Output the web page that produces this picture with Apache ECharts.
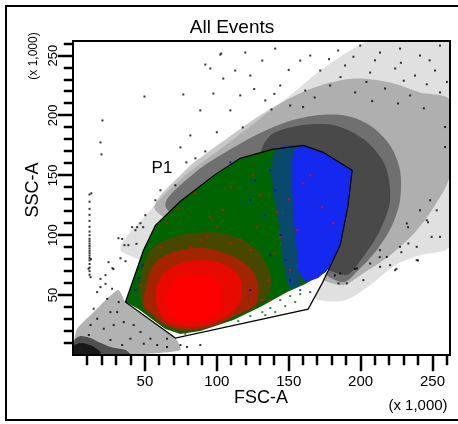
<!DOCTYPE html>
<html><head><meta charset="utf-8">
<script src="https://cdn.jsdelivr.net/npm/echarts@6/dist/echarts.min.js"></script>
<style>html,body{margin:0;padding:0;background:#fff}#c{width:458px;height:424px}</style>
</head><body><div id="c"></div>
<script>
const FONT = '"Liberation Sans", Arial, sans-serif';
const axisMax = 262.144;
const majorTicks = [50, 100, 150, 200, 250];
const minorTicks = [10,20,30,40,60,70,80,90,110,120,130,140,160,170,180,190,210,220,230,240,260];

// gate P1 (FSC-A, SSC-A in thousands)
const gateP1 = [[36.5,44.2],[49,87.5],[57.3,108.3],[74.7,128.3],[99,150.8],[116.3,164.2],[138.5,171.7],[160.1,175],[174,169.2],[194.1,154.2],[191.3,125],[185.8,91.7],[173.3,60],[163.5,38.3],[71.2,14.2]];

// density contours of the ungated (black) events
const blackSparseArea = [[34.4,85.8],[53.8,120.8],[78.1,150],[105.9,175],[130.2,197.5],[151,216.7],[171.9,237.5],[192.7,254.2],[206.6,262],[262,262],[262,91.7],[241.3,83.3],[224,75],[206.6,58.3],[189.2,45.8],[171.9,45.8]];
const blackMidArea = [[57.3,120.8],[78.1,154.2],[102.4,176.7],[126.7,197.5],[147.6,212.5],[171.9,225],[196.2,230.8],[220.5,227.5],[241.3,219.2],[262,212.5],[262,150],[251.7,125],[237.8,102.5],[220.5,83.3],[203.1,69.2],[185.8,58.3],[120,90]];
const blackCoreArea = [[64.2,125],[85.1,152.5],[105.9,169.2],[126.7,183.3],[147.6,194.2],[168.4,200],[189.2,200],[206.6,191.7],[220.5,175],[227.4,154.2],[227.4,129.2],[221.9,108.3],[212.2,89.2],[199.7,72.5],[187.2,60.8],[158,79.2],[88.5,104.2]];
const blackDenseArea = [[137.2,183.3],[158,191.7],[182.3,191.7],[203.1,179.2],[217,158.3],[220.5,129.2],[213.5,104.2],[201,80.8],[189.2,66.7],[158,87.5],[130.2,162.5]];
const blackSprayArea = [[1.7,0],[2.4,20.8],[12.2,33.3],[22.6,45.8],[31.6,54.2],[36.5,44.2],[53.8,29.2],[71.2,14.2],[74.7,4.2],[46.9,0.8]];
const blackCornerArea = [[1,0],[1,12.5],[5.2,15.8],[12.2,14.2],[17.7,10.8],[26,6.7],[36.5,4.2],[40,0]];
const blackCornerCore = [[1,0],[1,8.3],[6.6,10],[13.5,7.5],[19.1,2.5],[19.1,0]];

// gated populations
const greenArea = [[36.5,44.2],[49,87.5],[57.3,108.3],[74.7,128.3],[99,150.8],[116.3,164.2],[138.5,171.7],[160.1,175],[174,169.2],[194.1,154.2],[191.3,125],[185.8,91.7],[176,69.2],[161.5,59.2],[149,52.5],[130.2,40],[111.5,29.2],[88.5,20],[74.7,17.5],[64.2,21.7],[53.8,30.8],[45.5,38.3]];
const blueMixArea = [[140.6,170.8],[154.5,174.2],[153.1,129.2],[155.2,87.5],[158,60],[151,55.8],[146.2,79.2],[142.7,112.5],[138.5,145.8]];
const blueArea = [[154.5,173.3],[160.1,175],[174,169.2],[194.1,154.2],[191.3,125],[185.8,91.7],[178,72.5],[170.5,64.2],[161.5,60.8],[156.6,70.8],[155.2,91.7],[153.1,116.7],[152.4,141.7],[152.4,162.5]];
const redOuterArea = [[46.9,62.5],[53.8,87.5],[67.7,97.5],[88.5,102.5],[109.4,100],[126.7,89.2],[135.8,72.5],[137.2,54.2],[128.8,41.7],[116.3,34.2],[95.5,23.3],[74.7,19.2],[59.4,27.5],[49,39.2]];
const redMidArea = [[50.3,54.2],[53.8,70.8],[60.8,80.8],[74.7,87.5],[92,89.2],[109.4,83.3],[123.3,72.5],[128.8,58.3],[126.7,41.7],[116.3,35],[99,25],[81.6,20.8],[64.2,25],[55.2,34.2],[48.9,41.7]];
const redInnerArea = [[57.3,50],[60.8,64.2],[71.2,75],[88.5,79.2],[105.9,75],[116.3,62.5],[116.3,45.8],[108,33.3],[92,25],[74.7,24.2],[62.2,30.8]];
const redCoreArea = [[64.2,45.8],[67.7,58.3],[76,65],[88.5,66.7],[99,62.5],[103.8,52.5],[102.4,39.2],[95.5,30.8],[83,27.5],[71.2,30.8],[64.9,37.5]];

// individual events
const blackDots = [
[49.7,215.8],[76.7,217.5],[20.5,195.8],[19.1,177.5],[19.8,167.5],[12.8,135],[102.4,250.8],[92,242.5],[95.5,239.2],[74.7,173.3],[88.5,204.2],[97.6,218.3],[104.5,230.8],[103.1,251.7],[81.6,183.3],[71.2,141.7],[57.3,129.2],[50.3,116.7],[43.4,104.2],[38.5,91.7],[33,80.8],[27.4,72.5],[22.6,66.7],[31.6,97.5],[46.9,110],[60.8,137.5],[78.8,160.8],[85.1,164.2],
[11.5,134],[11.5,128],[11.5,122],[11.5,117],[11.5,112],[11.5,107],[11.5,103],[11.5,100],[11.5,97],[11.5,95],[11.5,93],[11.5,91],[11.5,89],[11.5,87],[11.5,85],[11.5,83],[11.5,81],[11.5,79],[11.5,76],[11.5,73],[11.5,70],[11.5,67],[12.2,65],[10.8,72],[12.5,80],
[16.8,52.5],[19.1,56.7],[24.7,77.5],[28.1,71.7],[36.5,78.3],[35.8,91.7],[41.1,106.7],[44.6,106.7],[48.8,106.7],[44.1,92.8],[34.2,96.9],[19.1,63.6],[22.6,59.4],[27.2,55.3],[23.8,46.9],[14.4,38.6],[16.8,30.3],[26,35.8],[31.8,44.2],[30.7,35.8],[35.3,27.5],[28.3,25],[21.4,21.9],[12.2,25],[11,16.7],[42.2,25],[46.9,19.2],[53.8,13.6],[58.5,8.3],[65.4,6.7],[74.7,8.3],[79.3,6.7],[88.5,8.3],[65.4,13.6],[39.9,13.6],[49.2,9.4],[34.2,8.3],[26,12.5],
[255.2,98.6],[249.4,98.6],[239,79.2],[224,70.8],[220.5,75],[218.2,81.9],[206.6,76.4],[213.5,87.5],[227.4,90.3],[233.2,93.1],[201.9,62.5],[190.4,59.8],[184.6,59.8],[185.8,68.1],[197.4,72.3],[213.5,73.6],[239,90.3],[246,112.5],[252.9,120.8],[258.7,173.6],[258.7,190.3],[248.3,129.2],[241.3,120.8],[232.1,109.8],[224.9,71.9],[233,106.7],[246.9,110.8],[239.9,78.9],[228.3,85.8],[213.3,81.7],[196,71.9],[182.1,66.4],
[184.4,254.2],[199.7,258.3],[213.5,252.5],[227.4,255.8],[241.3,250],[255.2,258.3],[158,245.8],[171.9,237.5],[189.2,241.7],[206.6,235.8],[224,239.2],[237.8,233.3],[251.7,237.5],[144.1,225],[161.5,220.8],[178.8,225],[196.2,219.2],[217,222.5],[234.4,216.7],[255.2,219.2],[131.6,245.8],[123.3,233.3],[116.3,216.7],[133.7,212.5],[151,208.3],[109.4,204.2],[119.8,252.5],[140.6,255.8],[112.8,237.5],
[165,250],[178,247],[195,249],[210,246],[228,244],[248,246],[150,238],[186,232],[204,228],[230,229],[246,226],[260,228],[126,222],[140,218],[168,215],[208,212],[226,210],[244,206],[118,190],[100,186],[92,170],[138,205],[160,207]
];
const redDots = [[73.3,122.5],[95.5,115],[104.5,120.8],[130.2,133.3],[142,119.2],[160.1,143.3],[128.1,106.7],[116.3,95.8],[93.4,98.3],[81.6,90],[144.1,98.3],[155.9,104.2],[100.3,106.7],[60.8,90],[173.3,123.3],[180.9,110],[46.9,58.3],[52.4,41.7],[131.6,45.8],[135.8,62.5],[123.3,87.5],[109.4,93.3],[64.2,77.5],[71.2,83.3],[88.5,95.8],[78.1,17.5],[137.2,45.8],[151,70.8],[85,135],[110,140],[125,150],[65,110],[140,85],[150,130],[165,150]];
const blueDots = [[137.2,154.2],[140.6,137.5],[133.7,116.7],[144.1,100],[147.6,79.2],[137.2,83.3],[126.7,145.8],[123.3,129.2],[151,62.5],[158,54.2],[164.9,52.5],[43.4,54.2],[45.8,64.2],[48.3,75],[123.3,54.2],[109.4,160.8]];
const greenDots = [[114.9,28.3],[123.3,32.5],[131.6,35.8],[137.2,39.2],[144.1,45.8],[151,49.2],[158,50.8],[140.6,35.8],[147.6,40.8],[154.5,44.2],[133.7,33.3]];

const GRID = { left: 73, top: 41, width: 377, height: 314 };

function area(pts, fill, smooth, stroke) {
  return {
    type: 'custom', coordinateSystem: 'cartesian2d', clip: true, silent: true,
    xAxisIndex: 0, yAxisIndex: 0, data: pts, encode: { x: 0, y: 1 },
    renderItem: function (params, api) {
      if (params.dataIndex !== 0) return null;
      return {
        type: 'polygon',
        shape: { points: pts.map(function (p) { return api.coord(p); }), smooth: smooth || 0 },
        style: stroke ? { fill: 'none', stroke: stroke, lineWidth: 1.2 } : { fill: fill }
      };
    }
  };
}
function dots(pts, color) {
  return { type: 'scatter', data: pts, symbol: 'rect', symbolSize: 2, silent: true,
    itemStyle: { color: color }, xAxisIndex: 0, yAxisIndex: 0 };
}

const chart = echarts.init(document.getElementById('c'), null, { renderer: 'canvas' });
chart.setOption({
  animation: false,
  backgroundColor: '#fff',
  grid: { left: GRID.left, top: GRID.top, width: GRID.width, height: GRID.height, show: true, borderColor: '#000', borderWidth: 2, backgroundColor: 'transparent' },
  xAxis: { type: 'value', min: 0, max: axisMax, position: 'bottom',
    axisLine: { show: true, lineStyle: { color: '#000', width: 2 } },
    axisTick: { show: false },
    axisLabel: { customValues: majorTicks, margin: 19, color: '#000', fontSize: 15, fontFamily: FONT },
    splitLine: { show: false } },
  yAxis: { type: 'value', min: 0, max: axisMax, position: 'left',
    axisLine: { show: true, lineStyle: { color: '#000', width: 2 } },
    axisTick: { show: false },
    axisLabel: { customValues: majorTicks, margin: 13, rotate: 90, color: '#000', fontSize: 13, fontFamily: FONT },
    splitLine: { show: false } },
  series: [
    area(blackSparseArea, 'rgba(0,0,0,0.12)', 0.3),
    area(blackMidArea, 'rgba(0,0,0,0.22)', 0.3),
    area(blackCoreArea, 'rgba(0,0,0,0.36)', 0.3),
    area(blackDenseArea, 'rgba(0,0,0,0.35)', 0.3),
    area(blackSprayArea, 'rgba(0,0,0,0.3)', 0.2),
    area(blackCornerArea, 'rgba(0,0,0,0.55)', 0.2),
    area(blackCornerCore, 'rgba(0,0,0,0.7)', 0.2),
    dots(blackDots, '#000'),
    area(gateP1, '#fff'),
    area(greenArea, '#006400'),
    area(blueMixArea, 'rgba(20,40,240,0.45)', 0.3),
    area(blueArea, '#1428f0'),
    area(redOuterArea, 'rgba(255,0,0,0.28)', 0.35),
    area(redMidArea, 'rgba(255,0,0,0.5)', 0.35),
    area(redInnerArea, 'rgba(255,0,0,0.75)', 0.35),
    area(redCoreArea, '#ff0000', 0.35),
    dots(greenDots, '#006400'),
    dots(blueDots, '#0000ff'),
    dots(redDots, '#ff0000'),
    area(gateP1, null, 0, '#000')
  ]
});

// frame, texts and axis tick marks (tick positions from the chart's axis scales)
const graphics = [
  { type: 'rect', silent: true, z: 100, shape: { x: 6, y: 6, width: 470, height: 414 }, style: { fill: 'none', stroke: '#000', lineWidth: 2 } },
  { type: 'text', silent: true, z: 100, x: 232, y: 28, style: { text: 'All Events', fontSize: 19, fontFamily: FONT, fill: '#000', align: 'center', verticalAlign: 'middle' } },
  { type: 'text', silent: true, z: 100, x: 261, y: 398, style: { text: 'FSC-A', fontSize: 18, fontFamily: FONT, fill: '#000', align: 'center', verticalAlign: 'middle' } },
  { type: 'text', silent: true, z: 100, x: 418, y: 406, style: { text: '(x 1,000)', fontSize: 15, fontFamily: FONT, fill: '#000', align: 'center', verticalAlign: 'middle' } },
  { type: 'text', silent: true, z: 100, x: 33, y: 190, rotation: Math.PI / 2, style: { text: 'SSC-A', fontSize: 18, fontFamily: FONT, fill: '#000', align: 'center', verticalAlign: 'middle' } },
  { type: 'text', silent: true, z: 100, x: 34, y: 56, rotation: Math.PI / 2, style: { text: '(x 1,000)', fontSize: 12, fontFamily: FONT, fill: '#000', align: 'center', verticalAlign: 'middle' } },
  { type: 'text', silent: true, z: 100, x: 162, y: 168, style: { text: 'P1', fontSize: 17, fontFamily: FONT, fill: '#000', align: 'center', verticalAlign: 'middle' } }
];
function xPix(v) {
  let p = null;
  try { p = chart.convertToPixel({ xAxisIndex: 0 }, v); } catch (e) { p = null; }
  return (typeof p === 'number' && isFinite(p)) ? p : GRID.left + v / axisMax * GRID.width;
}
function yPix(v) {
  let p = null;
  try { p = chart.convertToPixel({ yAxisIndex: 0 }, v); } catch (e) { p = null; }
  return (typeof p === 'number' && isFinite(p)) ? p : GRID.top + GRID.height - v / axisMax * GRID.height;
}
const axisY = GRID.top + GRID.height, axisX = GRID.left;
function addTicks(values, isX, len) {
  values.forEach(function (v) {
    const shape = isX
      ? { x: Math.round(xPix(v)) - 1, y: axisY, width: 2, height: len + 1 }
      : { x: axisX - 1 - len, y: Math.round(yPix(v)) - 1, width: len + 1, height: 2 };
    graphics.push({ type: 'rect', silent: true, z: 200, shape: shape, style: { fill: '#000', stroke: '#000', lineWidth: 0.5 } });
  });
}
addTicks(majorTicks, true, 15); addTicks(minorTicks, true, 9);
addTicks(majorTicks, false, 14); addTicks(minorTicks, false, 8);
chart.setOption({ graphic: graphics });
</script>
</body></html>
